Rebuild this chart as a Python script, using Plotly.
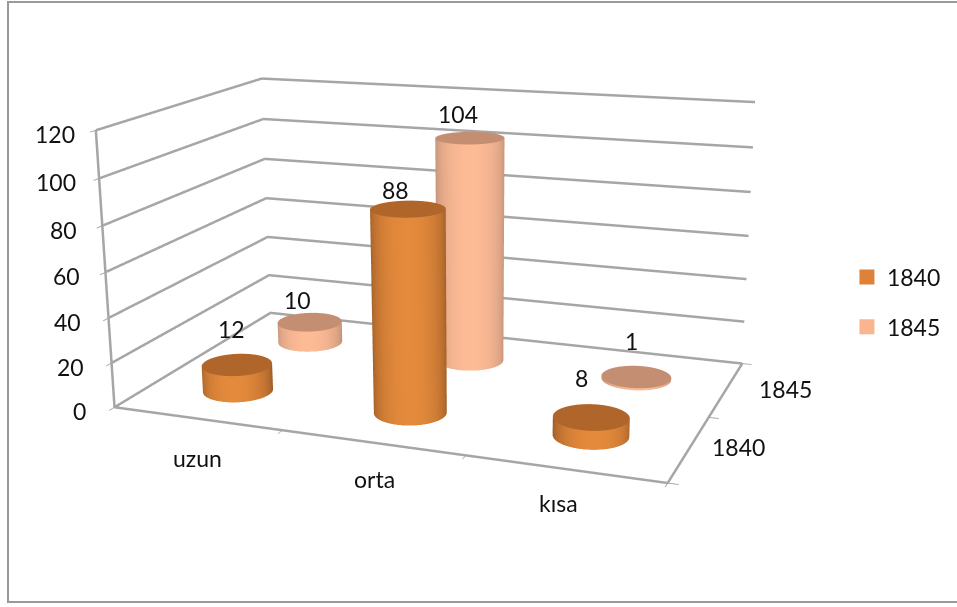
import numpy as np
import plotly.graph_objects as go

categories = ["uzun", "orta", "kısa"]
series_names = ["1840", "1845"]
values_1840 = [12, 88, 8]
values_1845 = [10, 104, 1]
z_ticks = [0, 20, 40, 60, 80, 100, 120]

W, H = 957, 607
VH = 1326            # plot taller than the window: plotly's fixed 45 degree lens needs this for the flat perspective
OFF = 359            # how far the plot is moved up so that the window shows its middle
EYE = dict(x=0.996, y=-2.6059, z=0.7259)
CENTER = dict(x=-0.0611, y=-0.0502, z=-0.0868)
UP = dict(x=-0.0943, y=0.2661, z=0.9593)
ay, az = 0.6220, 0.4996
PX = 396.2

def py(y):
    return 1 - (y + OFF) / VH

R_world = 0.064
rx = R_world * 3
ry = R_world * 2 / ay
cat_pos = [0.5, 1.52, 2.5]
colors_side = {"1840": "#E48A3C", "1845": "#FDBB95"}
dark_side = {"1840": "#9A5A25", "1845": "#BC8E76"}
caps = {"1840": "#B0652A", "1845": "#C48E72"}
legend_colors = {"1840": "#DE8239", "1845": "#FAB58F"}
LIT = dict(ambient=1, diffuse=0, specular=0, roughness=1, fresnel=0)
GRID = "#A6A6A6"
LW = 5

# pixel nudges of the text labels
label_dx = [[-6, -13, -10], [-12, -12, -5]]
label_dy = [[36, 19, 39], [22, 24, 36]]
cat_dx = [1, 2, -6]
cat_dy = [-40, -36, -34]
ser_dx = [49, 59]
ser_dy = [1, 0]
tick_dx = [-27, -26, -26, -23, -23, -21, -19]

fig = go.Figure()
for t in z_ticks:
    fig.add_trace(go.Scatter3d(x=[0, 0, 3], y=[0, 2, 2], z=[t, t, t], mode="lines",
                               line=dict(color=GRID, width=LW), showlegend=False, hoverinfo="skip"))
fig.add_trace(go.Scatter3d(x=[0, 0, 3, 3], y=[0, 0, 0, 2], z=[120, 0, 0, 0], mode="lines",
                           line=dict(color=GRID, width=LW), showlegend=False, hoverinfo="skip"))
th = np.linspace(0, 2 * np.pi, 73)
view = np.arctan2(EYE["y"], EYE["x"])
for j, (name, vals) in enumerate(zip(series_names, [values_1840, values_1845])):
    for i, h in enumerate(vals):
        X = cat_pos[i] + rx * np.cos(th)
        Y = j + 0.5 + ry * np.sin(th)
        t = np.abs(np.cos(th - view))
        fig.add_trace(go.Surface(x=np.array([X, X]), y=np.array([Y, Y]), z=np.array([0 * th, 0 * th + h]),
                                 surfacecolor=np.array([t, t]), cmin=0, cmax=1,
                                 colorscale=[[0, dark_side[name]], [1, colors_side[name]]],
                                 showscale=False, lighting=LIT, hoverinfo="skip"))
        rr = np.array([0, 1.0])
        xs = cat_pos[i] + rx * np.outer(rr, np.cos(th))
        ys = j + 0.5 + ry * np.outer(rr, np.sin(th))
        fig.add_trace(go.Surface(x=xs, y=ys, z=np.full(xs.shape, h), surfacecolor=np.zeros(xs.shape), cmin=0, cmax=1,
                                 colorscale=[[0, caps[name]], [1, caps[name]]],
                                 showscale=False, lighting=LIT, hoverinfo="skip"))
for name in series_names:
    fig.add_trace(go.Scatter3d(x=[None], y=[None], z=[None], mode="markers", name=name, legendgroup=name,
                               marker=dict(symbol="square", size=15, color=legend_colors[name]), showlegend=True))

font = dict(family="Lato", size=23, color="#111")
ann = []
for j, vals in enumerate([values_1840, values_1845]):
    for i, h in enumerate(vals):
        ann.append(dict(x=cat_pos[i], y=j + 0.5, z=h, text=str(h), showarrow=False, font=font,
                        xshift=label_dx[j][i], yshift=label_dy[j][i]))
for i, c_ in enumerate(categories):
    ann.append(dict(x=i + 0.5, y=0, z=0, text=c_, showarrow=False, font=font, xshift=cat_dx[i], yshift=cat_dy[i]))
for j, c_ in enumerate(series_names):
    ann.append(dict(x=3, y=j + 0.5, z=0, text=c_, showarrow=False, font=font, xshift=ser_dx[j], yshift=ser_dy[j]))
for k, t in enumerate(z_ticks):
    ann.append(dict(x=0, y=0, z=t, text=str(t), showarrow=False, font=font, xanchor="right", xshift=tick_dx[k], yshift=-4))

axcommon = dict(showbackground=False, title=dict(text=""), showspikes=False, color=GRID, linecolor=GRID, linewidth=2,
                showline=True, zeroline=False, ticks="outside", ticklen=8, tickcolor=GRID, tickwidth=2,
                showticklabels=False, showgrid=False)
fig.update_layout(
    width=W, height=VH, margin=dict(l=0, r=0, t=0, b=0), paper_bgcolor="white", font=font,
    legend=dict(x=0.885, y=py(302), xanchor="left", yanchor="middle", tracegroupgap=17, font=font,
                bgcolor="rgba(0,0,0,0)"),
    scene=dict(domain=dict(x=[0, 2 * PX / W], y=[0, 1]),
               camera=dict(eye=EYE, center=CENTER, up=UP, projection=dict(type="perspective")),
               aspectmode="manual", aspectratio=dict(x=1, y=ay, z=az),
               xaxis=dict(axcommon, range=[0, 3], tickvals=[0, 1, 2, 3]),
               yaxis=dict(axcommon, range=[0, 2], tickvals=[0, 1, 2]),
               zaxis=dict(axcommon, range=[0, 120], tickvals=z_ticks),
               annotations=ann),
    shapes=[dict(type="rect", xref="paper", yref="paper", x0=8 / W, x1=1.02, y0=py(602), y1=py(2),
                 line=dict(color="#999", width=2))])
post = ("document.documentElement.style.overflow='hidden';document.body.style.margin='0';"
        f"document.body.style.overflow='hidden';document.querySelector('.plotly-graph-div').style.marginTop='-{OFF}px';")
fig.write_html("out.html", post_script=post, config={"displayModeBar": False})
